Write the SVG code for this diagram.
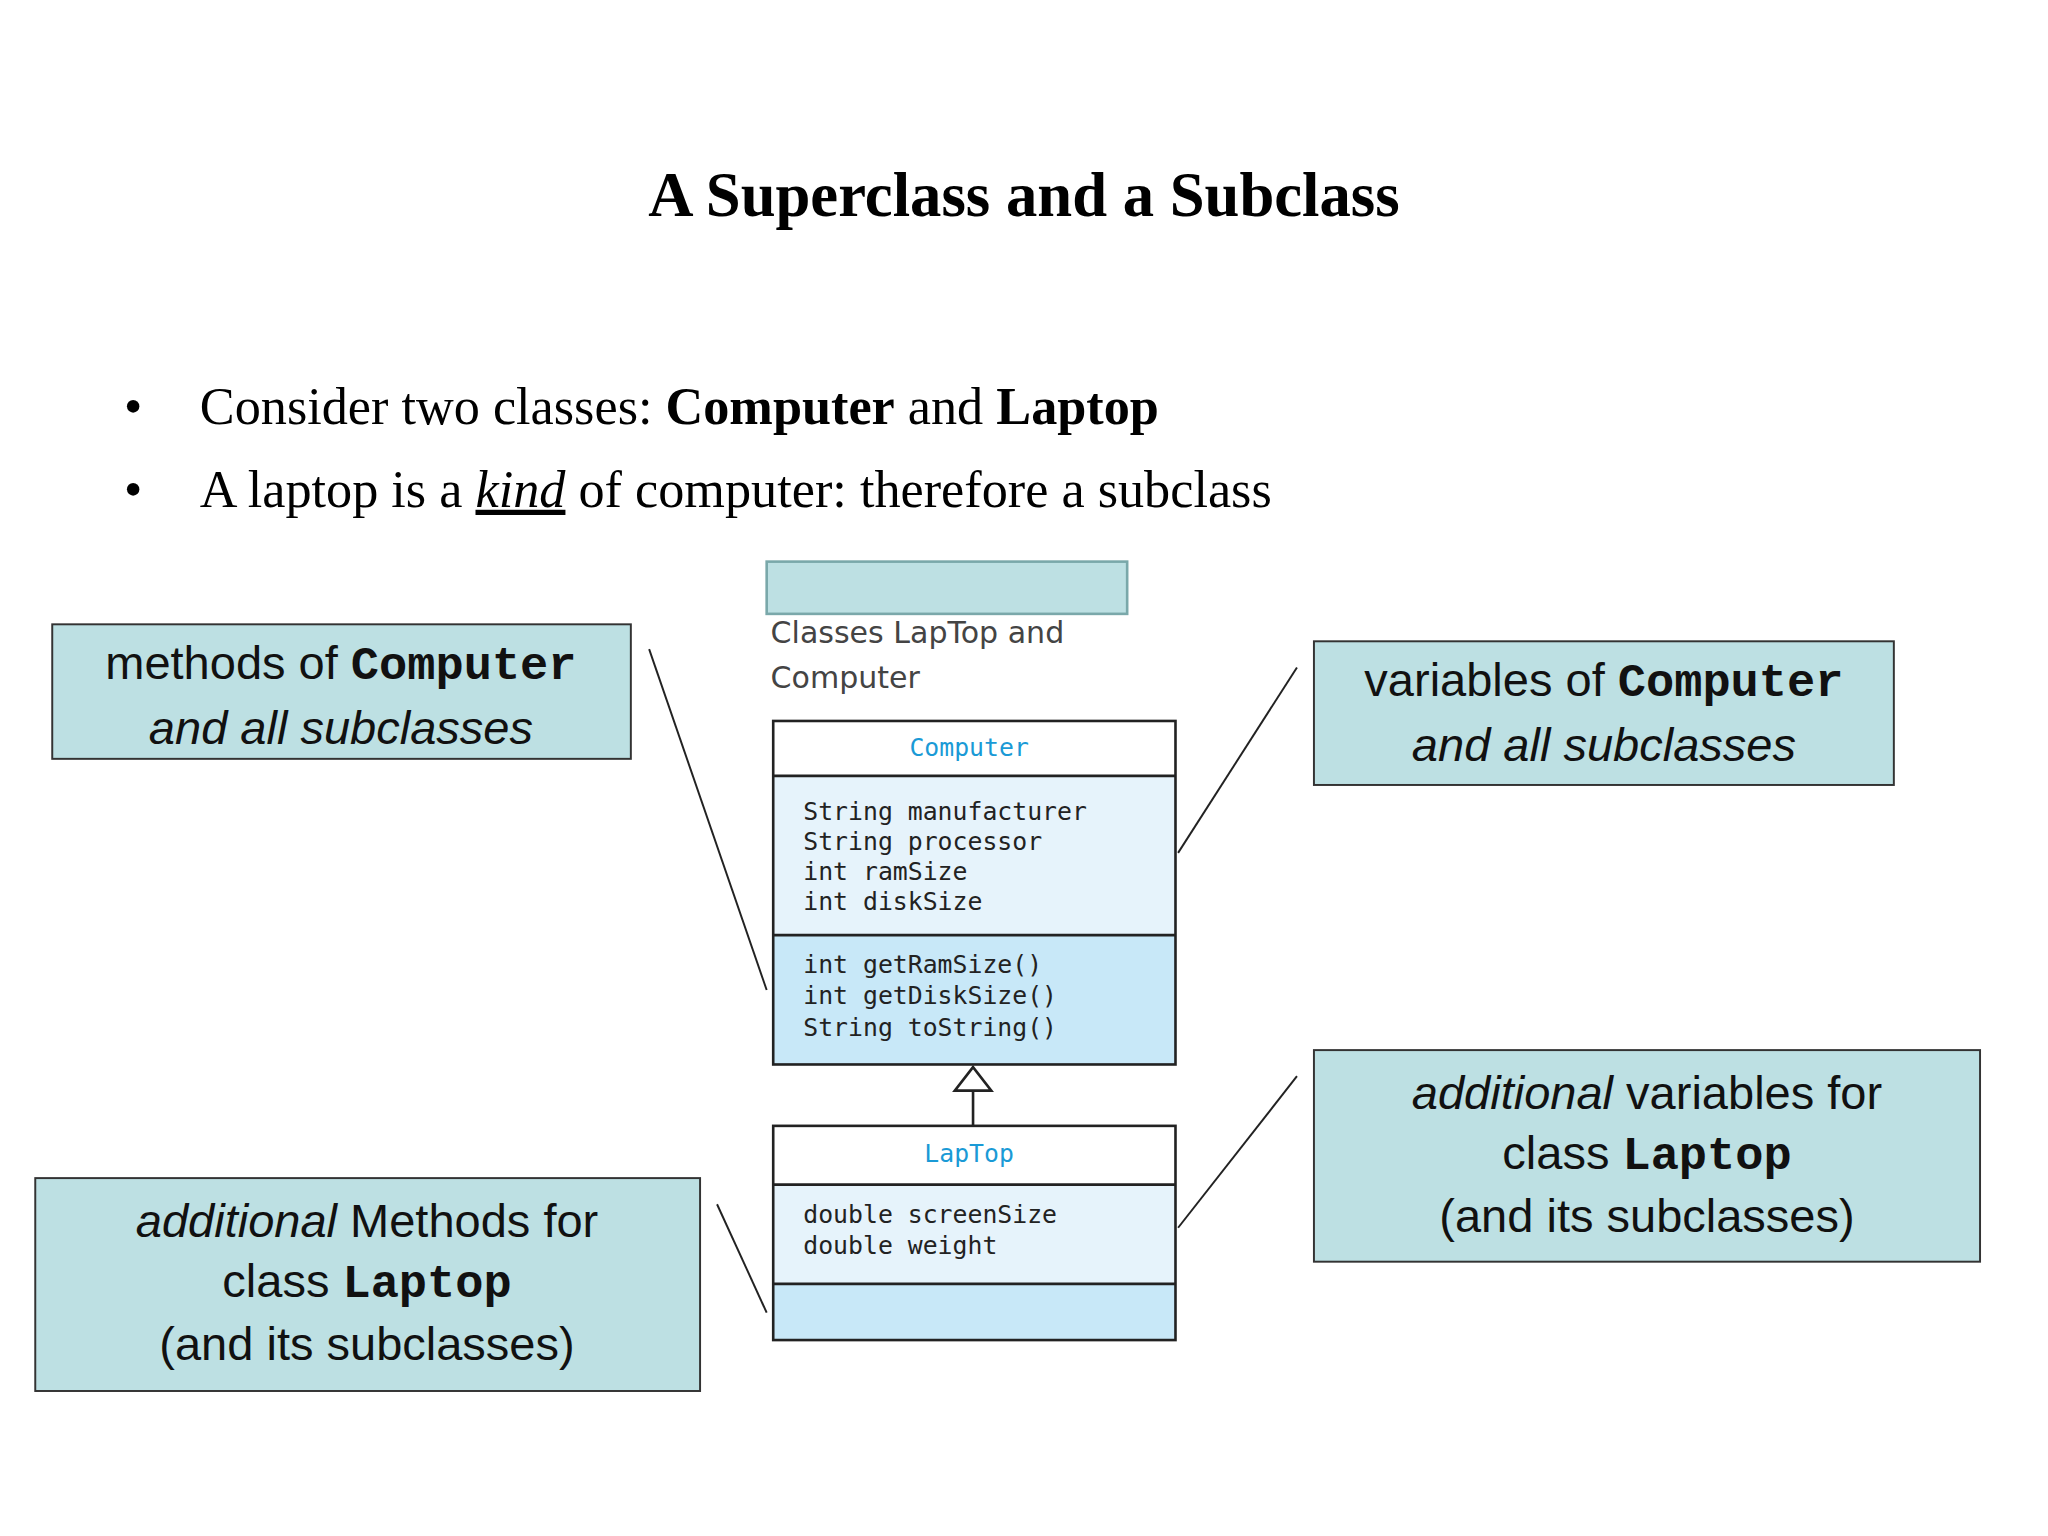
<svg xmlns="http://www.w3.org/2000/svg" width="2048" height="1536" viewBox="0 0 2048 1536">
<style>
.cb{fill:#bde0e3;stroke:#333;stroke-width:1.5}
.ct{font-family:"Liberation Sans",Arial,sans-serif;font-size:36px;fill:#111;text-anchor:middle}
.mb{font-family:"Liberation Mono","Courier New",monospace;font-weight:bold}
.mono{font-family:"DejaVu Sans Mono","Liberation Mono",monospace;font-size:19px;fill:#222}
.cn{font-family:"DejaVu Sans Mono","Liberation Mono",monospace;font-size:19px;fill:#1a9ad6;text-anchor:middle}
.sr{font-family:"Liberation Serif","Times New Roman",serif;fill:#000}
.ln{stroke:#222;stroke-width:1.5;fill:none}
.cl{stroke:#222;stroke-width:2}
</style>
<rect width="2048" height="1536" fill="#fff"/>
<g transform="scale(1.3061)">
<g id="title"><text class="sr" x="784" y="165" font-size="48" font-weight="bold" text-anchor="middle">A Superclass and a Subclass</text></g>
<g id="bullets" font-size="40">
<text class="sr" x="95" y="325" font-size="40">•</text>
<text class="sr" x="153" y="325" font-size="40">Consider two classes: <tspan font-weight="bold">Computer</tspan> and <tspan font-weight="bold">Laptop</tspan></text>
<text class="sr" x="95" y="388" font-size="40">•</text>
<text class="sr" x="153" y="388" font-size="40">A laptop is a <tspan font-style="italic" text-decoration="underline">kind</tspan> of computer: therefore a subclass</text>
</g>
<g id="caption">
<rect x="587" y="430" width="276" height="40" fill="#bde0e3" stroke="#7aa8aa" stroke-width="2"/>
<text x="590" y="492" font-family="DejaVu Sans,sans-serif" font-size="23" fill="#444">Classes LapTop and</text>
<text x="590" y="527" font-family="DejaVu Sans,sans-serif" font-size="23" fill="#444">Computer</text>
</g>
<g id="computer">
<rect x="592" y="552" width="308" height="42" fill="#fff"/>
<rect x="592" y="594" width="308" height="122" fill="#e6f3fb"/>
<rect x="592" y="716" width="308" height="99" fill="#c8e8f8"/>
<rect x="592" y="552" width="308" height="263" class="cl" fill="none"/>
<line x1="592" y1="594" x2="900" y2="594" class="cl"/>
<line x1="592" y1="716" x2="900" y2="716" class="cl"/>
<text class="cn" x="742" y="579">Computer</text>
<text class="mono" x="615" y="628">String manufacturer</text>
<text class="mono" x="615" y="651">String processor</text>
<text class="mono" x="615" y="674">int ramSize</text>
<text class="mono" x="615" y="697">int diskSize</text>
<text class="mono" x="615" y="745">int getRamSize()</text>
<text class="mono" x="615" y="769">int getDiskSize()</text>
<text class="mono" x="615" y="793">String toString()</text>
</g>
<g id="laptop">
<rect x="592" y="862" width="308" height="45" fill="#fff"/>
<rect x="592" y="907" width="308" height="76" fill="#e6f3fb"/>
<rect x="592" y="983" width="308" height="43" fill="#c8e8f8"/>
<rect x="592" y="862" width="308" height="164" class="cl" fill="none"/>
<line x1="592" y1="907" x2="900" y2="907" class="cl"/>
<line x1="592" y1="983" x2="900" y2="983" class="cl"/>
<text class="cn" x="742" y="890">LapTop</text>
<text class="mono" x="615" y="936">double screenSize</text>
<text class="mono" x="615" y="960">double weight</text>
</g>
<g id="c1"><rect class="cb" x="40" y="478" width="443" height="103"/>
<text class="ct" x="261" y="520">methods of <tspan class="mb">Computer</tspan></text>
<text class="ct" x="261" y="570" font-style="italic">and all subclasses</text></g>
<g id="c2"><rect class="cb" x="1006" y="491" width="444" height="110"/>
<text class="ct" x="1228" y="533">variables of <tspan class="mb">Computer</tspan></text>
<text class="ct" x="1228" y="583" font-style="italic">and all subclasses</text></g>
<g id="c3"><rect class="cb" x="1006" y="804" width="510" height="162"/>
<text class="ct" x="1261" y="849"><tspan font-style="italic">additional</tspan> variables for</text>
<text class="ct" x="1261" y="895">class <tspan class="mb">Laptop</tspan></text>
<text class="ct" x="1261" y="943">(and its subclasses)</text></g>
<g id="c4"><rect class="cb" x="27" y="902" width="509" height="163"/>
<text class="ct" x="281" y="947"><tspan font-style="italic">additional</tspan> Methods for</text>
<text class="ct" x="281" y="993">class <tspan class="mb">Laptop</tspan></text>
<text class="ct" x="281" y="1041">(and its subclasses)</text></g>
<g id="connectors">
<polygon points="745,817 731,835 759,835" fill="#fff" stroke="#222" stroke-width="2"/>
<line x1="745" y1="835" x2="745" y2="862" class="cl"/>
<line class="ln" x1="497" y1="497" x2="587" y2="758"/>
<line class="ln" x1="993" y1="511" x2="902" y2="653"/>
<line class="ln" x1="993" y1="824" x2="902" y2="940"/>
<line class="ln" x1="549" y1="922" x2="587" y2="1005"/>
</g>
</g>
</svg>
